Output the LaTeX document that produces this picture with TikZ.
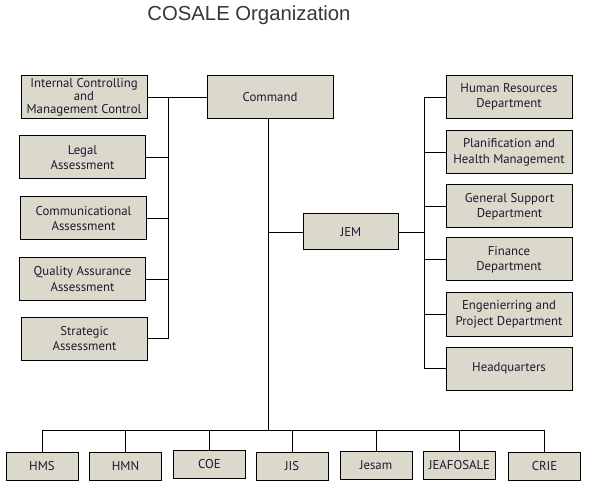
\documentclass[tikz,border=0pt]{standalone}
\usepackage{fontspec}
\setmainfont{PT Sans}
\newfontfamily\titlefont{Liberation Sans}
\usetikzlibrary{positioning}
\definecolor{boxfill}{RGB}{219,217,203}
\definecolor{boxtext}{RGB}{30,25,50}
\definecolor{titlegray}{RGB}{55,55,55}
\tikzset{
  unit/.style={draw,line width=1pt,fill=boxfill,text=boxtext,align=center,
    font=\fontsize{12.8}{15.5}\selectfont,inner sep=0pt},
  sideunit/.style={unit,minimum width=126pt,minimum height=43pt},
  lowunit/.style={unit,minimum width=72pt,minimum height=28pt},
  link/.style={line width=0.9pt}
}
\begin{document}
\begin{tikzpicture}[x=1pt,y=-1pt]
\useasboundingbox (0,0) rectangle (592,497);
% Titre
\node[font=\titlefont\fontsize{20.3}{24}\selectfont,text=titlegray] (title) at (249,15) {COSALE Organization};
% Commandement et JEM
\node[sideunit] (cmd) at (270,97) {Command};
\node[unit,minimum width=95pt,minimum height=36pt] (jem) at (351,232) {JEM};
% Colonne de gauche
\node[sideunit,font=\fontsize{12.8}{13}\selectfont] (ic) at (84,97) {Internal Controlling\\and\\Management Control};
\node[sideunit] (legal) at (82.5,157.5) {Legal\\Assessment};
\node[sideunit] (comm) at (83.5,218.5) {Communicational\\Assessment};
\node[sideunit] (qual) at (82.5,279) {Quality Assurance\\Assessment};
\node[sideunit] (strat) at (84.5,338.5) {Strategic\\Assessment};
% Colonne de droite
\node[sideunit] (hr) at (509,97) {Human Resources\\Department};
\node[sideunit] (plan) at (509,152.5) {Planification and\\Health Management};
\node[sideunit] (gsd) at (509.5,206.5) {General Support\\Department};
\node[sideunit] (fin) at (509,259.5) {Finance\\Department};
\node[sideunit] (eng) at (509,314.5) {Engenierring and\\Project Department};
\node[sideunit] (hq) at (509,368.5) {Headquarters};
% Rangée du bas
\node[lowunit] (hms) at (42,466) {HMS};
\node[lowunit] (hmn) at (125.5,466) {HMN};
\node[lowunit] (coe) at (209.5,464) {COE};
\node[lowunit] (jis) at (292,466) {JIS};
\node[lowunit] (jesam) at (376,465) {Jesam};
\node[lowunit] (jeafosale) at (459.5,465) {JEAFOSALE};
\node[lowunit] (crie) at (544.5,466) {CRIE};
% Bus
\coordinate (lbus) at (168,97);
\coordinate (rbus) at (424,97);
\coordinate (bbus) at (268,430);
% Liaisons gauche
\draw[link] (ic.east) -- (cmd.west) ;
\draw[link] (lbus) |- (strat.east) ;
\foreach \n in {legal,comm,qual}
  \draw[link] (\n.east) -- (\n.east -| lbus) ;
% Liaisons du commandement
\draw[link] (bbus |- cmd.south) -- (bbus) ;
\draw[link] (jem.west) -- (jem.west -| bbus) ;
\draw[link] (jem.east) -- (jem.east -| rbus) ;
% Liaisons droite
\draw[link] (rbus) -- (rbus |- hq.west) ;
\foreach \n in {hr,plan,gsd,fin,eng,hq}
  \draw[link] (\n.west) -- (\n.west -| rbus) ;
% Liaisons du bas
\draw[link] (hms.north |- bbus) -- (crie.north |- bbus) ;
\foreach \n in {hms,hmn,coe,jis,jesam,jeafosale,crie}
  \draw[link] (\n.north) -- (\n.north |- bbus) ;
\end{tikzpicture}
\end{document}
